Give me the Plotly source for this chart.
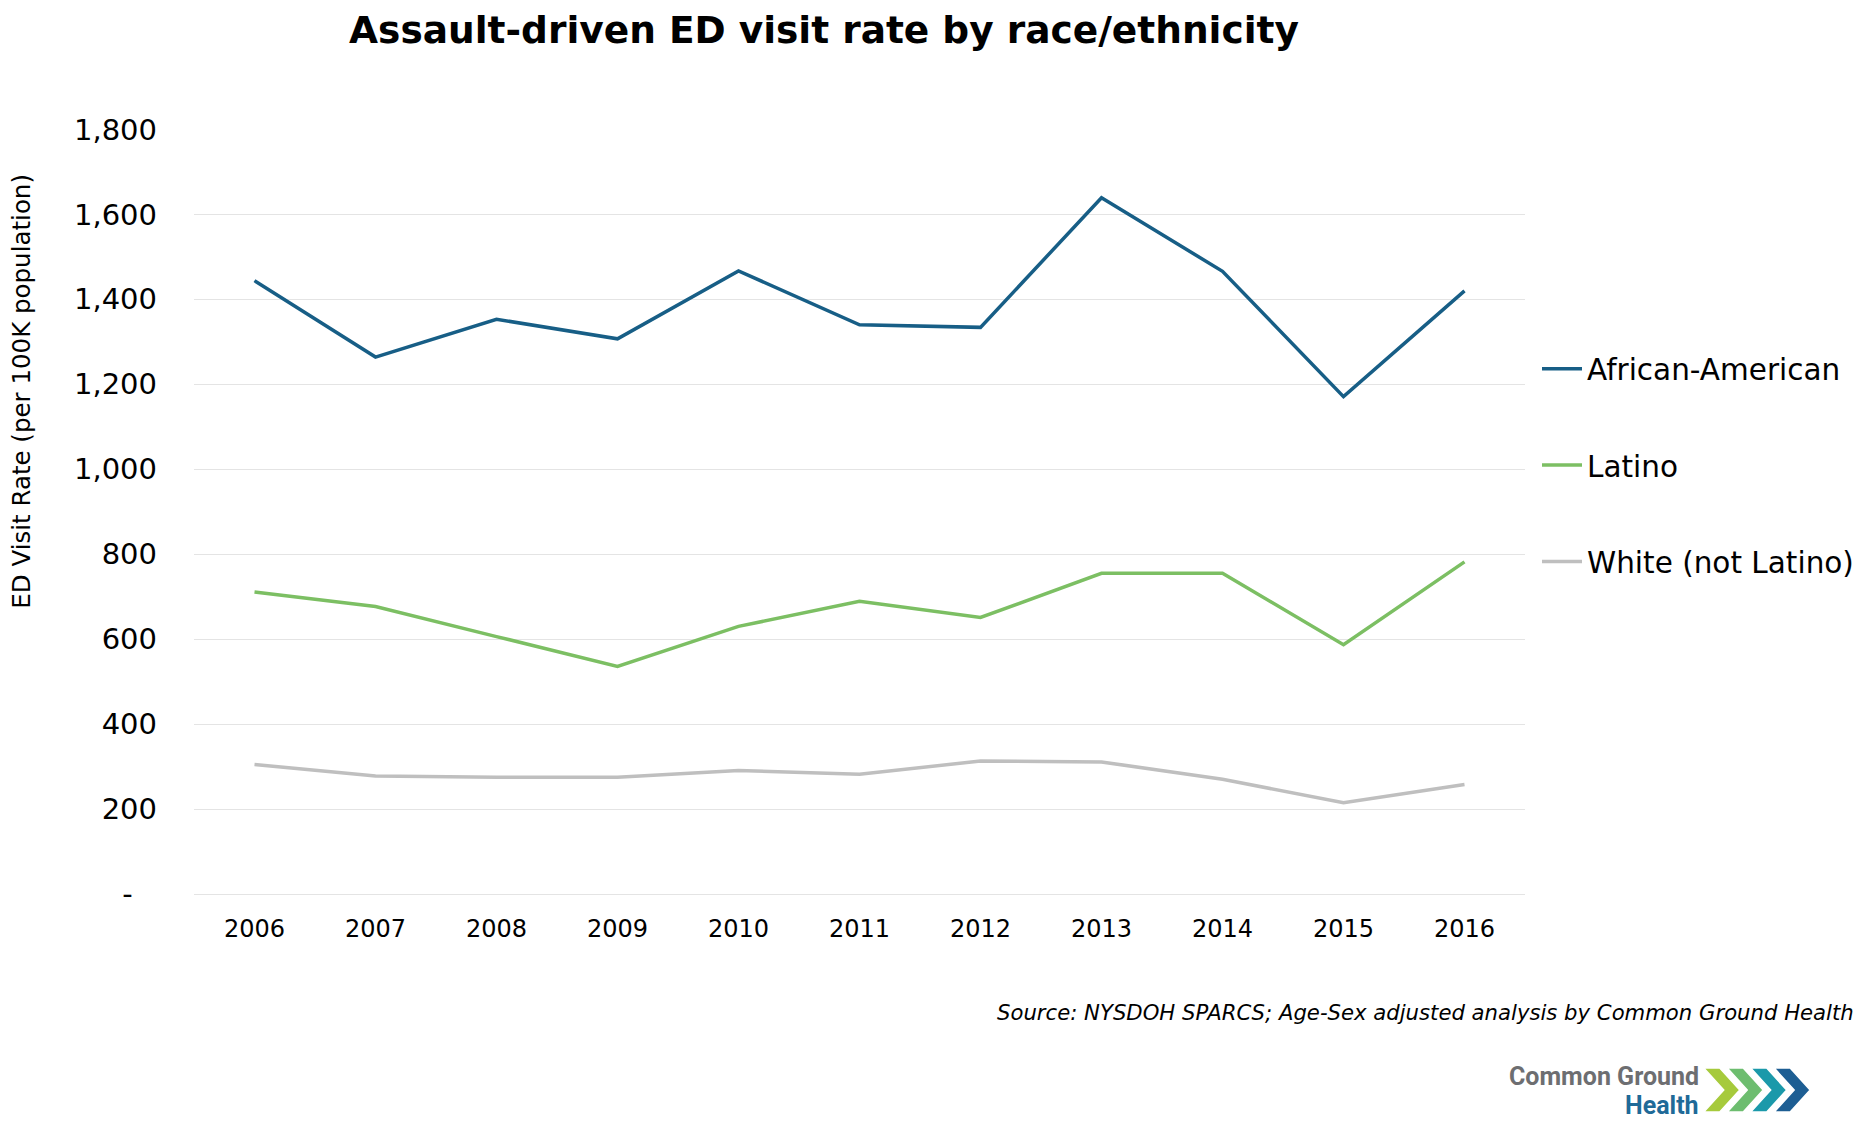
import plotly.graph_objects as go

# --- datos ---
years = ['2006', '2007', '2008', '2009', '2010', '2011', '2012', '2013', '2014', '2015', '2016']
african_american = [1444, 1264, 1353, 1307, 1467, 1340, 1334, 1639, 1466, 1171, 1420]
latino = [711, 677, 606, 536, 630, 689, 651, 755, 755, 587, 782]
white = [305, 278, 275, 275, 291, 282, 313, 311, 270, 215, 258]

y_ticks = [0, 200, 400, 600, 800, 1000, 1200, 1400, 1600, 1800]
y_ticktext = ['-\u00a0\u00a0\u2009', '200', '400', '600', '800', '1,000', '1,200', '1,400', '1,600', '1,800']

series = [
    ('African-American', african_american, '#175e86'),
    ('Latino', latino, '#7cbf63'),
    ('White (not Latino)', white, '#bfbfbf'),
]

# la página tiene 8px de margen en el body
OFF = 8
W, H = 1872 - 2 * OFF, 1142 - 2 * OFF
L, R, T, B = 194.3 - OFF, 1527 - OFF, 129.3 - OFF, 894 - OFF


def px(x):
    return (x - OFF - L) / (R - L)


def py(y):
    return (B - (y - OFF)) / (B - T)


fig = go.Figure()
for nombre, valores, color in series:
    fig.add_trace(go.Scatter(
        x=years, y=valores, mode='lines', name=nombre,
        legendgroup=nombre,
        line=dict(color=color, width=3.5),
    ))

# --- logo Common Ground Health (chevrones) ---
logo_colors = ['#a6ca3c', '#6dbd6f', '#1b99aa', '#1d5e93']
top, bot = 1068, 1112
mid = (top + bot) / 2
for i, c in enumerate(logo_colors):
    x0 = 1706 + 23.5 * i
    pts = [(x0, top), (x0 + 16, top), (x0 + 36, mid), (x0 + 16, bot), (x0, bot), (x0 + 20, mid)]
    path = 'M ' + ' L '.join(f'{px(a):.5f},{py(b):.5f}' for a, b in pts) + ' Z'
    fig.add_shape(type='path', path=path, xref='paper', yref='paper',
                  fillcolor=c, line=dict(color='white', width=1.5), layer='above')

fig.add_annotation(x=px(1703), y=py(1076), xref='paper', yref='paper',
                   text='<b>Common Ground</b>', showarrow=False, xanchor='right', yanchor='middle',
                   font=dict(family='Roboto', size=25, color='#6d6e71'))
fig.add_annotation(x=px(1703), y=py(1105), xref='paper', yref='paper',
                   text='<b>Health</b>', showarrow=False, xanchor='right', yanchor='middle',
                   font=dict(family='Roboto', size=25, color='#1f6a98'))

# fuente
fig.add_annotation(x=px(1858), y=py(1012), xref='paper', yref='paper',
                   text='<i>Source: NYSDOH SPARCS; Age-Sex adjusted analysis by Common Ground Health</i>',
                   showarrow=False, xanchor='right', yanchor='middle',
                   font=dict(family='DejaVu Sans', size=21.2, color='#000000'))

# título del eje Y
fig.add_annotation(x=px(22), y=py(391), xref='paper', yref='paper',
                   text='ED Visit Rate (per 100K population)', textangle=-90,
                   showarrow=False, xanchor='center', yanchor='middle', borderpad=0,
                   font=dict(family='DejaVu Sans', size=24.5, color='#000000'))

fig.update_layout(
    width=W, height=H,
    margin=dict(l=L, r=W - R, t=T, b=H - B),
    paper_bgcolor='white', plot_bgcolor='white',
    title=dict(text='<b>Assault-driven ED visit rate by race/ethnicity</b>',
               x=(824 - OFF) / W, xanchor='center', y=1 - (30 - OFF) / H, yanchor='middle',
               font=dict(family='DejaVu Sans', size=37.5, color='#000000')),
    font=dict(family='DejaVu Sans', color='#000000'),
    legend=dict(xref='container', yref='container',
                x=(1537 - OFF) / W, xanchor='left', y=1 - (343 - OFF) / H, yanchor='top',
                font=dict(family='DejaVu Sans', size=29.5, color='#000000'),
                tracegroupgap=55, itemwidth=40, bgcolor='rgba(0,0,0,0)'),
    showlegend=True,
)
fig.update_xaxes(type='category', range=[-0.5, len(years) - 0.5],
                 showgrid=False, showline=False, zeroline=False,
                 ticks='', tickfont=dict(size=24), ticklabelstandoff=18)
fig.update_yaxes(range=[0, 1801], tickvals=y_ticks, ticktext=y_ticktext,
                 showgrid=True, gridcolor='#e4e4e4', gridwidth=1,
                 zeroline=True, zerolinecolor='#e4e4e4', zerolinewidth=1,
                 showline=False, ticks='', tickfont=dict(size=29), ticklabelstandoff=36)

fig.write_html('out.html')
